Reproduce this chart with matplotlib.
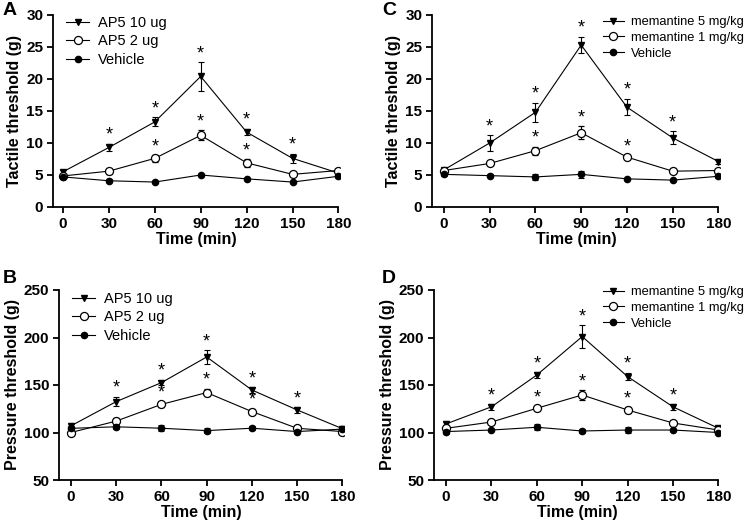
import matplotlib
matplotlib.use("Agg")
import matplotlib.pyplot as plt
from matplotlib.lines import Line2D

plt.rcParams['font.family'] = ['Liberation Sans', 'DejaVu Sans']

time = [0, 30, 60, 90, 120, 150, 180]
x_ticks = [0, 30, 60, 90, 120, 150, 180]

# Panel A: tactile, AP5
a_hi = [5.5, 9.3, 13.3, 20.4, 11.7, 7.6, 5.3]
a_hi_err = [0.3, 0.6, 0.7, 2.2, 0.5, 0.7, 0.3]
a_lo = [4.85, 5.6, 7.6, 11.2, 6.9, 5.1, 5.7]
a_lo_err = [0.3, 0.4, 0.5, 0.8, 0.6, 0.2, 0.3]
a_veh = [4.7, 4.1, 3.9, 5.0, 4.4, 3.9, 4.8]
a_veh_err = [0.2, 0.2, 0.2, 0.2, 0.2, 0.2, 0.2]
a_star_hi = [30, 60, 90, 120, 150]
a_star_lo = [60, 90, 120]

# Panel C: tactile, memantine
c_hi = [5.8, 10.0, 14.8, 25.3, 15.6, 10.8, 7.1]
c_hi_err = [0.3, 1.2, 1.5, 1.3, 1.3, 1.0, 0.4]
c_lo = [5.7, 6.8, 8.8, 11.6, 7.8, 5.6, 5.7]
c_lo_err = [0.3, 0.2, 0.6, 1.0, 0.3, 0.2, 0.3]
c_veh = [5.1, 4.9, 4.7, 5.1, 4.4, 4.2, 4.8]
c_veh_err = [0.2, 0.2, 0.5, 0.6, 0.2, 0.2, 0.2]
c_star_hi = [30, 60, 90, 120, 150]
c_star_lo = [60, 90, 120]

# Panel B: pressure, AP5
b_hi = [107, 132.5, 152.5, 179.5, 144.7, 123.7, 104]
b_hi_err = [3, 5, 3, 7, 3, 3, 3]
b_lo = [100, 112, 129.6, 142, 122, 104.4, 101]
b_lo_err = [3, 3, 3, 4, 3, 2, 2]
b_veh = [104.4, 106, 104.5, 102, 104.5, 101, 103.6]
b_veh_err = [2, 2, 3, 3, 2, 2, 2]
b_star_hi = [30, 60, 90, 120, 150]
b_star_lo = [60, 90, 120]

# Panel D: pressure, memantine
d_hi = [109, 127, 160.5, 201, 158.8, 127, 104.4]
d_hi_err = [3, 3, 3, 12, 4, 3, 2]
d_lo = [104.4, 111, 125.5, 139.5, 123.7, 110, 102.6]
d_lo_err = [3, 2, 2, 5, 3, 2, 2]
d_veh = [101, 102.6, 105.5, 101.6, 102.6, 102.6, 100]
d_veh_err = [3, 1, 3, 2, 3, 1, 1]
d_star_hi = [30, 60, 90, 120, 150]
d_star_lo = [60, 90, 120]

ap5_labels = ['AP5 10 ug', 'AP5 2 ug', 'Vehicle']
mem_labels = ['memantine 5 mg/kg', 'memantine 1 mg/kg', 'Vehicle']

tactile_ticks = [0, 5, 10, 15, 20, 25, 30]
pressure_ticks = [50, 100, 150, 200, 250]

W, H = 745, 523
fig = plt.figure(figsize=(W / 100, H / 100), dpi=100)


def make_ax(left, bottom, width, height):
    return fig.add_axes([left / W, 1 - bottom / H, width / W, height / H])


def panel(ax, hi, hi_err, lo, lo_err, veh, veh_err, star_hi, star_lo,
          labels, ylabel, yticks, xlim_lo, leg_pos, leg_fs, letter, letter_pos):
    ser = [(hi, hi_err, dict(marker='v', mfc='black', mec='black', ms=5)),
           (lo, lo_err, dict(marker='o', mfc='white', mec='black', ms=5.8, mew=0.9)),
           (veh, veh_err, dict(marker='o', mfc='black', mec='black', ms=4.5))]
    handles = []
    for (y, e, st), lab in zip(ser, labels):
        ax.errorbar(time, y, yerr=e, color='black', lw=0.8, elinewidth=0.8,
                    capsize=2.5, capthick=0.8, zorder=3, **st)
        handles.append(Line2D([], [], color='black', lw=0.8, **st))
    for series, err, stars in ((hi, hi_err, star_hi), (lo, lo_err, star_lo)):
        for t in stars:
            i = time.index(t)
            ax.annotate('*', (t, series[i] + err[i]), xytext=(0, 0),
                        textcoords='offset points', ha='center', va='bottom',
                        fontsize=13)
    ax.set_xlim(xlim_lo, 181)
    ax.set_ylim(yticks[0], yticks[-1])
    ax.set_xticks(x_ticks)
    ax.set_yticks(yticks)
    for s in ('top', 'right'):
        ax.spines[s].set_visible(False)
    for s in ('left', 'bottom'):
        ax.spines[s].set_linewidth(1.3)
    ax.spines['bottom'].set_bounds(xlim_lo, 180)
    ax.tick_params(direction='out', length=4, width=1.3, labelsize=11, pad=3)
    for lbl in ax.get_xticklabels() + ax.get_yticklabels():
        lbl.set_fontweight('bold')
    ax.set_xlabel('Time (min)', fontsize=11.5, fontweight='bold', labelpad=1)
    ax.set_ylabel(ylabel, fontsize=11.5, fontweight='bold', labelpad=3)
    fig.legend(handles, labels, loc='upper left',
               bbox_to_anchor=(leg_pos[0] / W, 1 - leg_pos[1] / H),
               frameon=False, fontsize=leg_fs, handlelength=1.6,
               handletextpad=0.6, labelspacing=0.3, borderpad=0, borderaxespad=0)
    fig.text(letter_pos[0] / W, 1 - letter_pos[1] / H, letter, fontsize=14,
             fontweight='bold', ha='left', va='top')


axA = make_ax(53, 207, 287, 192)
panel(axA, a_hi, a_hi_err, a_lo, a_lo_err, a_veh, a_veh_err, a_star_hi, a_star_lo,
      ap5_labels, 'Tactile threshold (g)', tactile_ticks, -6.5, (66, 16), 10.5, 'A', (3, 2))

axC = make_ax(432, 207, 288, 192)
panel(axC, c_hi, c_hi_err, c_lo, c_lo_err, c_veh, c_veh_err, c_star_hi, c_star_lo,
      mem_labels, 'Tactile threshold (g)', tactile_ticks, -7.8, (603, 16), 9.3, 'C', (382, 2))

axB = make_ax(59, 480, 285, 190)
panel(axB, b_hi, b_hi_err, b_lo, b_lo_err, b_veh, b_veh_err, b_star_hi, b_star_lo,
      ap5_labels, 'Pressure threshold (g)', pressure_ticks, -7.9, (72, 292), 10.5, 'B', (3, 270))

axD = make_ax(434, 480, 286, 190)
panel(axD, d_hi, d_hi_err, d_lo, d_lo_err, d_veh, d_veh_err, d_star_hi, d_star_lo,
      mem_labels, 'Pressure threshold (g)', pressure_ticks, -7.9, (603, 286), 9.3, 'D', (382, 270))

fig.savefig('out.png', dpi=100)
